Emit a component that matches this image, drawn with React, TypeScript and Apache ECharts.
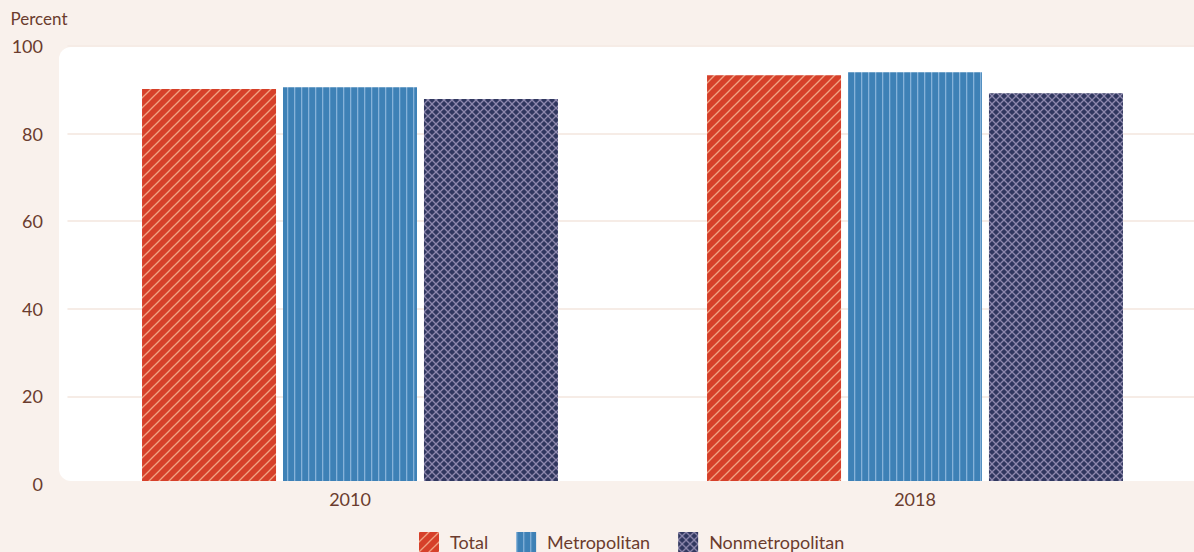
import React, { useEffect, useRef } from "react";
import * as echarts from "echarts";

const categories = ["2010", "2018"];
const seriesNames = ["Total", "Metropolitan", "Nonmetropolitan"];
const totalValues = [90.2, 93.3];
const metroValues = [90.6, 94.0];
const nonmetroValues = [87.9, 89.2];
const yTicks = [0, 20, 40, 60, 80, 100];

const BG = "#f9f1ec";
const TEXT = "#6b3c2e";
const FONT = "Lato, 'Noto Sans', sans-serif";

function makeDiag(size: number, bg: string, fg: string, lw: number, cross: boolean) {
  const c = document.createElement("canvas");
  c.width = size;
  c.height = size;
  const ctx = c.getContext("2d")!;
  ctx.fillStyle = bg;
  ctx.fillRect(0, 0, size, size);
  ctx.strokeStyle = fg;
  ctx.lineWidth = lw;
  const seg = (x1: number, y1: number, x2: number, y2: number) => {
    ctx.beginPath();
    ctx.moveTo(x1, y1);
    ctx.lineTo(x2, y2);
    ctx.stroke();
  };
  seg(-size, size * 2, size * 2, -size);
  seg(-size, size, size, -size);
  seg(0, size * 2, size * 2, 0);
  if (cross) {
    seg(-size, -size, size * 2, size * 2);
    seg(-size, 0, size, size * 2);
    seg(0, -size, size * 2, size);
  }
  return c;
}

function makeVert(w: number, bg: string, fg: string, lw: number) {
  const c = document.createElement("canvas");
  c.width = w;
  c.height = w;
  const ctx = c.getContext("2d")!;
  ctx.fillStyle = bg;
  ctx.fillRect(0, 0, w, w);
  ctx.fillStyle = fg;
  ctx.fillRect(0, 0, lw, w);
  return c;
}

export default function App() {
  const ref = useRef<HTMLDivElement>(null);
  useEffect(() => {
    if (!ref.current) return;
    const chart = echarts.init(ref.current, undefined, { renderer: "svg" });
    const redPat = { image: makeDiag(10, "#d6402a", "#f0a283", 1.3, false), repeat: "repeat" };
    const bluePat = { image: makeVert(7, "#3e81b6", "#86b2d9", 1.3), repeat: "repeat" };
    const navyPat = { image: makeDiag(8, "#30375f", "#8d88ad", 1.3, true), repeat: "repeat" };
    const pats = [redPat, bluePat, navyPat];
    const vals = [totalValues, metroValues, nonmetroValues];
    chart.setOption({
      animation: false,
      backgroundColor: BG,
      textStyle: { fontFamily: FONT },
      graphic: {
        z: -10,
        elements: [
          {
            type: "rect",
            z: -10,
            silent: true,
            shape: { x: 59, y: 47, width: 1200, height: 434, r: 12 },
            style: { fill: "#ffffff" },
          },
        ],
      },
      grid: { left: 67.5, top: 46, width: 1130, height: 438 },
      legend: {
        left: 419,
        top: 532,
        padding: 0,
        itemWidth: 20,
        itemHeight: 20,
        itemGap: 28,
        icon: "rect",
        textStyle: { color: TEXT, fontSize: 18, fontFamily: FONT, padding: [0, 0, 0, 6] },
        data: seriesNames,
      },
      xAxis: {
        type: "category",
        data: categories,
        z: 10,
        axisLine: { show: true, lineStyle: { color: BG, width: 6 } },
        axisTick: { show: false },
        axisLabel: { color: TEXT, fontSize: 18, margin: 6, fontFamily: FONT },
      },
      yAxis: {
        type: "value",
        min: yTicks[0],
        max: yTicks[yTicks.length - 1],
        interval: 20,
        name: "Percent",
        nameLocation: "end",
        nameGap: 28,
        nameTextStyle: { color: TEXT, fontSize: 17, align: "right", verticalAlign: "middle", fontFamily: FONT },
        axisLine: { show: false },
        axisTick: { show: false },
        axisLabel: { color: TEXT, fontSize: 18, margin: 24.5, fontFamily: FONT },
        splitLine: { show: true, lineStyle: { color: "#f6ece6", width: 2 } },
      },
      series: seriesNames.map((n, i) => ({
        name: n,
        type: "bar",
        data: vals[i],
        barWidth: 134,
        barGap: "5.2%",
        itemStyle: { color: pats[i] },
        emphasis: { disabled: true },
      })),
    });
    return () => chart.dispose();
  }, []);
  return (
    <div
      ref={ref}
      style={{ position: "fixed", left: 0, top: 0, width: 1210, height: 552, background: BG }}
    />
  );
}
